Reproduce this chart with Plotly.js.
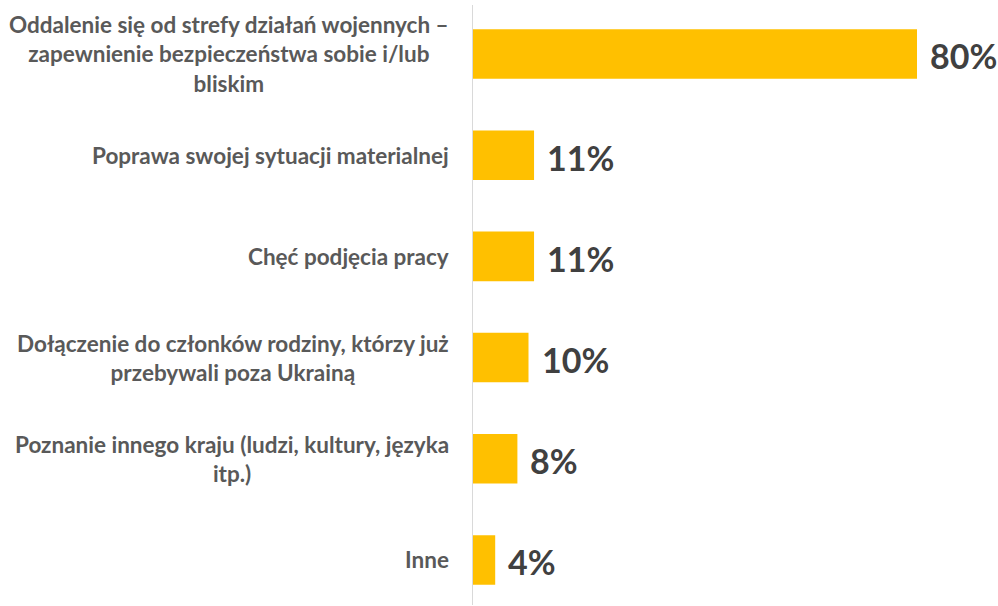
<!DOCTYPE html>
<html>
<head>
<meta charset="utf-8">
<script src="https://cdn.plot.ly/plotly-3.0.1.min.js"></script>
<style>html,body{margin:0;padding:0;background:#fff;}#chart{width:998px;height:606px;}</style>
</head>
<body>
<div id="chart"></div>
<script>
const categories = [
  "Oddalenie się od strefy działań wojennych –<br>zapewnienie bezpieczeństwa sobie i/lub<br>bliskim",
  "Poprawa swojej sytuacji materialnej",
  "Chęć podjęcia pracy",
  "Dołączenie do członków rodziny, którzy już<br>przebywali poza Ukrainą",
  "Poznanie innego kraju (ludzi, kultury, języka<br>itp.)",
  "Inne"
];
const values = [80, 11, 11, 10, 8, 4];
const valueLabels = ["80%", "11%", "11%", "10%", "8%", "4%"];

const FONT = "Lato, 'Open Sans', sans-serif";

const trace = {
  type: "bar",
  orientation: "h",
  x: values,
  y: categories,
  marker: {color: "#FFC000"},
  width: 0.49,
  hoverinfo: "none"
};

const annotations = [];
categories.forEach((c, i) => {
  annotations.push({
    xref: "paper", yref: "y", x: 0, y: c,
    xanchor: "right", yanchor: "middle", xshift: -22,
    text: "<b>" + c + "</b>", align: "center", showarrow: false,
    font: {family: FONT, size: 22.5, color: "#595959"}
  });
  annotations.push({
    xref: "x", yref: "y", x: values[i], y: c,
    xanchor: "left", yanchor: "middle", xshift: 11, yshift: -2,
    text: "<b>" + valueLabels[i] + "</b>", showarrow: false,
    font: {family: FONT, size: 34, color: "#404040"}
  });
});

const layout = {
  width: 998, height: 606,
  margin: {l: 473, r: 81, t: 5, b: 1, pad: 0},
  paper_bgcolor: "#fff", plot_bgcolor: "#fff",
  showlegend: false,
  xaxis: {range: [0, 80], visible: false, fixedrange: true},
  yaxis: {
    type: "category",
    range: [5.445, -0.484],
    showticklabels: false, ticks: "",
    showgrid: false, zeroline: false,
    showline: true, linecolor: "#d9d9d9", linewidth: 1.5,
    fixedrange: true
  },
  annotations: annotations
};

Plotly.newPlot("chart", [trace], layout, {displayModeBar: false, staticPlot: true});
</script>
</body>
</html>
